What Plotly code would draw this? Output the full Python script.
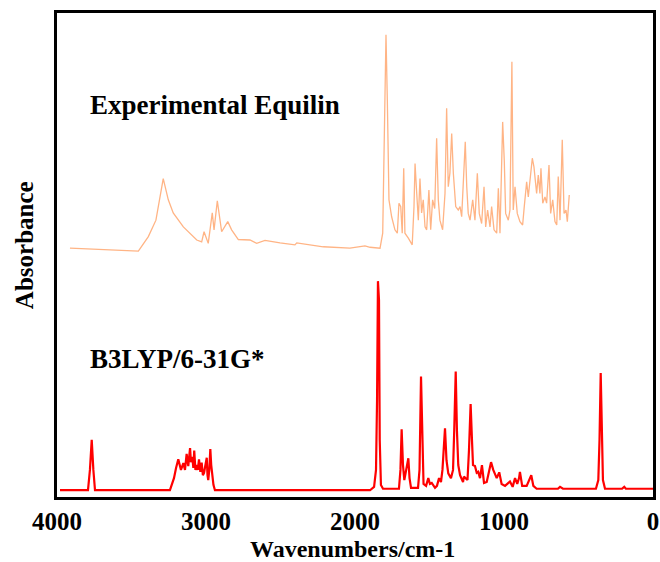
import plotly.graph_objects as go

# Experimental Equilin IR spectrum (wavenumber cm-1, absorbance a.u., offset trace)
exp_wn = [3913, 3454, 3387, 3336, 3287, 3253, 3220, 3152, 3062, 3029, 3013, 2985, 2958, 2946,
          2924, 2895, 2854, 2828, 2783, 2705, 2660, 2604, 2503, 2403, 2391, 2213, 2034, 1933,
          1899, 1832, 1814, 1805, 1792, 1783, 1772, 1754, 1732, 1716, 1705, 1693, 1683, 1673,
          1665, 1642, 1616, 1604, 1597, 1586, 1575, 1564, 1553, 1542, 1530, 1519, 1504, 1492,
          1479, 1465, 1452, 1441, 1430, 1412, 1396, 1385, 1374, 1363, 1351, 1340, 1324, 1307,
          1295, 1284, 1269, 1260, 1250, 1240, 1228, 1210, 1195, 1179, 1166, 1150, 1134, 1123,
          1110, 1094, 1083, 1067, 1049, 1038, 1027, 1009, 998, 989, 971, 960, 947, 938, 926,
          911, 893, 875, 864, 848, 837, 821, 810, 799, 781, 770, 759, 752, 740, 725, 714, 698,
          687, 673, 658, 646, 636, 624, 609, 597, 584, 575, 562]
exp_abs = [51.4, 50.8, 53.8, 57.2, 65.8, 61.4, 58.7, 55.8, 53.1, 52.7, 54.8, 52.4, 58.7, 55.2,
           61.2, 54.8, 56.9, 55.2, 53.2, 53.1, 52.4, 53.0, 52.5, 52.1, 52.5, 51.7, 51.4, 51.9,
           51.6, 51.4, 54.5, 75.2, 95.5, 82.0, 61.4, 57.9, 55.2, 54.5, 60.7, 60.0, 54.5, 67.9,
           54.5, 53.5, 52.1, 60.0, 68.9, 62.8, 57.2, 65.8, 58.7, 61.4, 55.8, 55.2, 63.4, 55.2,
           61.4, 59.6, 74.1, 61.4, 57.2, 55.2, 62.7, 80.3, 64.1, 66.9, 75.1, 66.9, 60.0, 59.3,
           60.0, 57.9, 66.9, 73.4, 64.1, 58.6, 57.2, 61.4, 57.2, 66.9, 58.6, 56.5, 64.1, 55.8,
           59.3, 55.8, 60.0, 55.2, 54.5, 63.8, 54.5, 77.5, 69.3, 58.6, 57.2, 59.3, 89.9, 59.3, 64.1,
           58.6, 56.9, 56.2, 60.0, 65.1, 62.0, 66.2, 70.0, 68.2, 62.7, 66.5, 62.7, 67.9, 60.7, 62.0, 60.7, 68.6,
           58.6, 61.4, 56.9, 56.2, 66.2, 57.2, 73.8, 58.6, 59.3, 56.9, 62.4]

# B3LYP/6-31G* computed spectrum
calc_wn = [3980, 3792, 3779, 3767, 3756, 3745, 3242, 3215, 3201, 3186, 3168, 3152, 3141, 3130,
           3119, 3107, 3101, 3092, 3085, 3079, 3071, 3062, 3055, 3047, 3038, 3029, 3021, 3013,
           3005, 2995, 2990, 2985, 2978, 2971, 2965, 2958, 2950, 2940, 1899, 1872, 1859, 1852,
           1846, 1839, 1834, 1826, 1812, 1705, 1695, 1687, 1678, 1669, 1658, 1648, 1642, 1634,
           1624, 1577, 1567, 1557, 1548, 1540, 1523, 1508, 1497, 1485, 1463, 1450, 1436, 1423,
           1413, 1406, 1396, 1386, 1374, 1356, 1342, 1334, 1324, 1316, 1307, 1295, 1284, 1275,
           1269, 1255, 1245, 1235, 1224, 1215, 1208, 1195, 1183, 1173, 1161, 1148, 1134, 1116,
           1101, 1087, 1072, 1060, 1049, 1032, 1016, 993, 977, 960, 942, 926, 911, 899, 893, 883,
           878, 848, 832, 817, 803, 781, 638, 624, 604, 383, 367, 359, 351, 342, 336, 322, 208,
           193, 182, 88, 0]
calc_abs = [1.4, 1.4, 5.6, 11.8, 5.6, 1.4, 1.4, 3.9, 6.0, 7.8, 5.6, 7.0, 5.6, 8.9,
            6.4, 10.1, 7.2, 8.3, 6.0, 9.6, 5.6, 6.6, 5.6, 7.8, 5.2, 7.1, 4.5, 5.0,
            6.4, 8.1, 4.5, 3.5, 5.6, 9.9, 6.6, 5.0, 2.5, 1.4, 1.4, 2.1, 5.6, 20.0,
            44.6, 40.7, 11.8, 2.5, 1.7, 1.7, 5.6, 14.0, 6.6, 3.5, 5.6, 6.6, 8.0, 3.9,
            1.9, 1.9, 5.6, 24.9, 9.7, 2.7, 2.3, 3.9, 2.7, 2.9, 1.9, 2.3, 3.9, 3.1,
            5.6, 9.7, 14.2, 7.6, 4.9, 3.9, 5.6, 13.8, 25.9, 13.8, 6.6, 4.5, 3.9, 3.1,
            4.2, 3.7, 3.5, 9.7, 19.2, 11.8, 6.6, 6.4, 5.0, 5.2, 3.9, 6.6, 2.9, 3.1,
            5.2, 7.2, 5.6, 4.8, 3.9, 5.1, 2.7, 2.3, 2.7, 3.2, 2.1, 3.9, 2.7, 3.9, 5.2, 3.5,
            2.3, 2.3, 3.5, 4.5, 2.3, 1.7, 1.7, 2.1, 1.7, 1.7, 3.5, 11.8, 25.6, 11.8, 3.5, 1.7, 1.7,
            2.1, 1.7, 1.7, 1.7]

x_ticks = [4000, 3000, 2000, 1000, 0]
labels = ["Experimental Equilin", "B3LYP/6-31G*"]
x_title = "Wavenumbers/cm-1"
y_title = "Absorbance"

SERIF = "Times New Roman, Liberation Serif, serif"

fig = go.Figure()
fig.add_trace(go.Scatter(x=exp_wn, y=exp_abs, mode="lines",
                         line=dict(color="#FFB485", width=1.3), showlegend=False))
fig.add_trace(go.Scatter(x=calc_wn, y=calc_abs, mode="lines",
                         line=dict(color="#FF0000", width=2.2), showlegend=False))

fig.add_annotation(x=3795, y=81.0, text=labels[0], showarrow=False, xanchor="left",
                   yanchor="middle", font=dict(family=SERIF, size=27, color="black", weight="bold"))
fig.add_annotation(x=3795, y=28.5, text=labels[1], showarrow=False, xanchor="left",
                   yanchor="middle", font=dict(family=SERIF, size=27, color="black", weight="bold"))

# axis titles as paper annotations (fixed positions)
fig.add_annotation(xref="paper", yref="paper", x=0.495, y=-0.1075, text=x_title,
                   showarrow=False, xanchor="center", yanchor="middle", borderpad=0,
                   font=dict(family=SERIF, size=24, color="black", weight="bold"))
fig.add_annotation(xref="paper", yref="paper", x=-0.054, y=0.52, text=y_title,
                   showarrow=False, xanchor="center", yanchor="middle", textangle=-90,
                   font=dict(family=SERIF, size=25, color="black", weight="bold"))

fig.update_layout(
    width=660, height=562,
    margin=dict(l=57, r=7, t=13, b=65),
    paper_bgcolor="white", plot_bgcolor="white",
    font=dict(family=SERIF, color="black"),
)
fig.update_xaxes(range=[4000, 0], tickvals=x_ticks, ticktext=[str(t) for t in x_ticks],
                 showgrid=False, zeroline=False, showline=True, linecolor="black",
                 linewidth=3, mirror=True, ticks="", automargin=False,
                 tickfont=dict(family=SERIF, size=25, color="black", weight="bold"))
fig.update_yaxes(range=[0, 100], showticklabels=False, showgrid=False, zeroline=False,
                 showline=True, linecolor="black", linewidth=3, mirror=True, ticks="",
                 automargin=False)

fig.write_html("out.html")
